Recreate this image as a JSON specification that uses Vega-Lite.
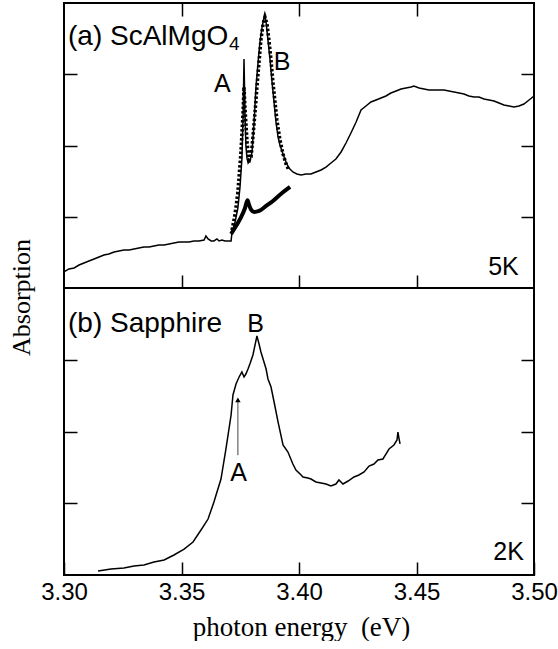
{
  "$schema": "https://vega.github.io/schema/vega-lite/v6.json",
  "autosize": {"type": "pad"},
  "padding": {"left": 7, "top": 1, "right": 0, "bottom": 0},
  "spacing": 0,
  "bounds": "flush",
  "background": "white",
  "config": {
    "view": {"stroke": "black", "strokeWidth": 2},
    "axis": {
      "domain": false, "grid": false, "ticks": true,
      "tickColor": "black", "tickWidth": 1.5, "tickSize": -13,
      "labelFont": "Liberation Sans", "labelFontSize": 24, "labelColor": "black",
      "titleFont": "Liberation Serif", "titleFontSize": 26, "titleColor": "black", "titleFontWeight": "normal"
    },
    "text": {"font": "Liberation Sans", "color": "black"}
  },
  "datasets": {
    "scalmgo4": [
      {"E":3.3000,"A":0.225},{"E":3.3021,"A":0.267},{"E":3.3043,"A":0.281},{"E":3.3064,"A":0.323},{"E":3.3085,"A":0.351},{"E":3.3106,"A":0.379},{"E":3.3128,"A":0.407},{"E":3.3149,"A":0.435},{"E":3.3170,"A":0.463},{"E":3.3191,"A":0.477},{"E":3.3213,"A":0.505},{"E":3.3234,"A":0.519},{"E":3.3255,"A":0.533},{"E":3.3277,"A":0.533},{"E":3.3298,"A":0.547},{"E":3.3319,"A":0.561},{"E":3.3340,"A":0.575},{"E":3.3362,"A":0.575},{"E":3.3383,"A":0.589},{"E":3.3404,"A":0.604},{"E":3.3426,"A":0.604},{"E":3.3447,"A":0.618},{"E":3.3468,"A":0.632},{"E":3.3489,"A":0.646},{"E":3.3511,"A":0.646},{"E":3.3532,"A":0.646},{"E":3.3553,"A":0.660},{"E":3.3574,"A":0.660},{"E":3.3596,"A":0.674},{"E":3.3604,"A":0.730},{"E":3.3613,"A":0.688},{"E":3.3626,"A":0.660},{"E":3.3638,"A":0.660},{"E":3.3651,"A":0.688},{"E":3.3660,"A":0.660},{"E":3.3672,"A":0.674},{"E":3.3685,"A":0.660},{"E":3.3702,"A":0.660},{"E":3.3711,"A":0.660},
      {"E":3.3715,"A":0.786},{"E":3.3728,"A":0.926},{"E":3.3740,"A":1.123},{"E":3.3749,"A":1.418},{"E":3.3757,"A":1.811},{"E":3.3762,"A":2.400},{"E":3.3766,"A":3.214},{"E":3.3770,"A":2.470},{"E":3.3774,"A":2.000},{"E":3.3779,"A":1.811},{"E":3.3783,"A":1.768},{"E":3.3791,"A":1.768},{"E":3.3800,"A":1.909},{"E":3.3809,"A":2.330},{"E":3.3817,"A":2.821},{"E":3.3826,"A":3.172},{"E":3.3834,"A":3.453},{"E":3.3843,"A":3.663},{"E":3.3851,"A":3.790},{"E":3.3855,"A":3.804},{"E":3.3860,"A":3.733},{"E":3.3868,"A":3.481},{"E":3.3877,"A":3.200},{"E":3.3885,"A":2.900},{"E":3.3894,"A":2.600},{"E":3.3902,"A":2.330},{"E":3.3911,"A":2.119},{"E":3.3919,"A":2.007},{"E":3.3932,"A":1.881},{"E":3.3945,"A":1.768},{"E":3.3957,"A":1.684},{"E":3.3974,"A":1.628},{"E":3.3991,"A":1.600},{"E":3.4009,"A":1.586},{"E":3.4030,"A":1.600},{"E":3.4051,"A":1.600},{"E":3.4072,"A":1.628},{"E":3.4094,"A":1.656},{"E":3.4115,"A":1.698},{"E":3.4136,"A":1.754},{"E":3.4157,"A":1.811},{"E":3.4179,"A":1.909},{"E":3.4200,"A":2.035},{"E":3.4221,"A":2.175},{"E":3.4243,"A":2.330},{"E":3.4264,"A":2.498},{"E":3.4285,"A":2.554},{"E":3.4306,"A":2.611},{"E":3.4328,"A":2.639},{"E":3.4349,"A":2.667},{"E":3.4370,"A":2.695},{"E":3.4391,"A":2.737},{"E":3.4413,"A":2.765},{"E":3.4434,"A":2.793},{"E":3.4455,"A":2.807},{"E":3.4477,"A":2.821},{"E":3.4489,"A":2.835},{"E":3.4511,"A":2.807},{"E":3.4532,"A":2.793},{"E":3.4553,"A":2.779},{"E":3.4574,"A":2.779},{"E":3.4596,"A":2.779},{"E":3.4617,"A":2.779},{"E":3.4638,"A":2.765},{"E":3.4660,"A":2.751},{"E":3.4681,"A":2.737},{"E":3.4702,"A":2.723},{"E":3.4723,"A":2.695},{"E":3.4745,"A":2.681},{"E":3.4766,"A":2.681},{"E":3.4787,"A":2.653},{"E":3.4809,"A":2.639},{"E":3.4830,"A":2.625},{"E":3.4851,"A":2.596},{"E":3.4872,"A":2.568},{"E":3.4894,"A":2.554},{"E":3.4915,"A":2.540},{"E":3.4936,"A":2.554},{"E":3.4957,"A":2.582},{"E":3.4979,"A":2.639},{"E":3.5000,"A":2.695}
    ],
    "fit": [
      {"E":3.3715,"A":0.814},{"E":3.3728,"A":1.039},{"E":3.3740,"A":1.347},{"E":3.3753,"A":1.909},{"E":3.3762,"A":2.470},{"E":3.3766,"A":2.821},{"E":3.3770,"A":2.540},{"E":3.3779,"A":2.049},{"E":3.3787,"A":1.796},{"E":3.3796,"A":1.839},{"E":3.3804,"A":2.119},{"E":3.3813,"A":2.470},{"E":3.3821,"A":2.821},{"E":3.3830,"A":3.172},{"E":3.3838,"A":3.481},{"E":3.3847,"A":3.705},{"E":3.3855,"A":3.804},{"E":3.3864,"A":3.705},{"E":3.3872,"A":3.481},{"E":3.3881,"A":3.200},{"E":3.3889,"A":2.891},{"E":3.3898,"A":2.611},{"E":3.3906,"A":2.358},{"E":3.3919,"A":2.077},{"E":3.3932,"A":1.881},{"E":3.3945,"A":1.740},{"E":3.3957,"A":1.656}
    ],
    "component": [
      {"E":3.3711,"A":0.758},{"E":3.3732,"A":0.870},{"E":3.3753,"A":0.990},{"E":3.3770,"A":1.120},{"E":3.3781,"A":1.230},{"E":3.3787,"A":1.170},{"E":3.3796,"A":1.100},{"E":3.3809,"A":1.067},{"E":3.3830,"A":1.081},{"E":3.3860,"A":1.151},{"E":3.3889,"A":1.221},{"E":3.3923,"A":1.319},{"E":3.3962,"A":1.418}
    ],
    "sapphire": [
      {"E":3.3145,"A":0.056},{"E":3.3200,"A":0.084},{"E":3.3255,"A":0.098},{"E":3.3298,"A":0.125},{"E":3.3340,"A":0.139},{"E":3.3383,"A":0.181},{"E":3.3426,"A":0.209},{"E":3.3468,"A":0.279},{"E":3.3511,"A":0.362},{"E":3.3549,"A":0.460},{"E":3.3583,"A":0.627},{"E":3.3613,"A":0.780},{"E":3.3638,"A":1.017},{"E":3.3668,"A":1.338},{"E":3.3689,"A":1.756},{"E":3.3711,"A":2.230},{"E":3.3719,"A":2.509},{"E":3.3732,"A":2.662},{"E":3.3745,"A":2.760},{"E":3.3757,"A":2.829},{"E":3.3766,"A":2.760},{"E":3.3774,"A":2.801},{"E":3.3783,"A":2.871},{"E":3.3791,"A":2.941},{"E":3.3804,"A":3.066},{"E":3.3821,"A":3.331},{"E":3.3830,"A":3.220},{"E":3.3838,"A":3.108},{"E":3.3851,"A":2.969},{"E":3.3860,"A":2.871},{"E":3.3868,"A":2.732},{"E":3.3881,"A":2.620},{"E":3.3894,"A":2.411},{"E":3.3911,"A":2.132},{"E":3.3932,"A":1.812},{"E":3.3953,"A":1.714},{"E":3.3974,"A":1.547},{"E":3.3987,"A":1.463},{"E":3.4009,"A":1.394},{"E":3.4017,"A":1.366},{"E":3.4038,"A":1.352},{"E":3.4051,"A":1.338},{"E":3.4072,"A":1.296},{"E":3.4094,"A":1.282},{"E":3.4115,"A":1.268},{"E":3.4136,"A":1.240},{"E":3.4157,"A":1.268},{"E":3.4170,"A":1.324},{"E":3.4187,"A":1.268},{"E":3.4209,"A":1.310},{"E":3.4234,"A":1.366},{"E":3.4255,"A":1.394},{"E":3.4277,"A":1.436},{"E":3.4298,"A":1.519},{"E":3.4319,"A":1.547},{"E":3.4336,"A":1.603},{"E":3.4357,"A":1.617},{"E":3.4370,"A":1.686},{"E":3.4383,"A":1.756},{"E":3.4404,"A":1.812},{"E":3.4417,"A":1.882},{"E":3.4421,"A":1.993},{"E":3.4426,"A":1.895},{"E":3.4430,"A":1.826}
    ],
    "labels_a": [
      {"E":3.3674,"A":2.75,"text":"A"},{"E":3.3928,"A":3.06,"text":"B"},{"E":3.4870,"A":0.18,"text":"5K"}
    ],
    "labels_b": [
      {"E":3.3815,"A":3.39,"text":"B"},{"E":3.3743,"A":1.31,"text":"A"},{"E":3.4892,"A":0.21,"text":"2K"}
    ],
    "arrow": [
      {"E":3.3740,"A0":1.67,"A1":2.44}
    ]
  },
  "vconcat": [
    {
      "width": 470,
      "height": 285,
      "layer": [
        {
          "data": {"name": "scalmgo4"},
          "mark": {"type": "line", "color": "black", "strokeWidth": 1.5},
          "encoding": {
            "x": {"field": "E", "type": "quantitative", "scale": {"domain": [3.3, 3.5]},
                  "axis": {"orient": "bottom", "values": [3.35, 3.4, 3.45], "labels": false, "title": null}},
            "y": {"field": "A", "type": "quantitative", "scale": {"domain": [0, 4]},
                  "axis": {"orient": "left", "values": [1, 2, 3], "labels": false, "title": "Absorption",
                           "titleX": -35, "titleY": 294, "titleBaseline": "alphabetic", "titleAlign": "center", "titleAngle": -90}}
          }
        },
        {
          "data": {"name": "fit"},
          "mark": {"type": "line", "color": "black", "strokeWidth": 3.5, "strokeDash": [2.5, 2]},
          "encoding": {
            "x": {"field": "E", "type": "quantitative",
                  "axis": {"orient": "top", "values": [3.35, 3.4, 3.45], "labels": false, "title": null}},
            "y": {"field": "A", "type": "quantitative",
                  "axis": {"orient": "right", "values": [1, 2, 3], "labels": false, "title": null}}
          }
        },
        {
          "data": {"name": "component"},
          "mark": {"type": "line", "color": "black", "strokeWidth": 4, "interpolate": "monotone"},
          "encoding": {
            "x": {"field": "E", "type": "quantitative", "axis": null},
            "y": {"field": "A", "type": "quantitative", "axis": null}
          }
        },
        {
          "data": {"name": "labels_a"},
          "mark": {"type": "text", "fontSize": 25, "align": "center", "baseline": "alphabetic"},
          "encoding": {
            "x": {"field": "E", "type": "quantitative", "axis": null},
            "y": {"field": "A", "type": "quantitative", "axis": null},
            "text": {"field": "text"}
          }
        },
        {
          "data": {"values": [{"E": 3.3017, "A": 3.41, "text": "(a) ScAlMgO"}]},
          "mark": {"type": "text", "fontSize": 28, "align": "left", "baseline": "alphabetic"},
          "encoding": {
            "x": {"field": "E", "type": "quantitative", "axis": null},
            "y": {"field": "A", "type": "quantitative", "axis": null},
            "text": {"field": "text"}
          }
        },
        {
          "data": {"values": [{"E": 3.3702, "A": 3.34, "text": "4"}]},
          "mark": {"type": "text", "fontSize": 19, "align": "left", "baseline": "alphabetic"},
          "encoding": {
            "x": {"field": "E", "type": "quantitative", "axis": null},
            "y": {"field": "A", "type": "quantitative", "axis": null},
            "text": {"field": "text"}
          }
        }
      ],
      "resolve": {"axis": {"x": "independent", "y": "independent"}}
    },
    {
      "width": 470,
      "height": 287,
      "layer": [
        {
          "data": {"name": "sapphire"},
          "mark": {"type": "line", "color": "black", "strokeWidth": 1.5},
          "encoding": {
            "x": {"field": "E", "type": "quantitative", "scale": {"domain": [3.3, 3.5]},
                  "axis": {"orient": "bottom", "values": [3.3, 3.35, 3.4, 3.45, 3.5], "format": ".2f",
                           "labelPadding": 37, "labelBaseline": "alphabetic", "labelFlush": false,
                           "title": "photon energy\u00a0 (eV)", "titleFontSize": 27, "titleX": 237, "titleY": 60, "titleBaseline": "alphabetic", "titleAnchor": null}},
            "y": {"field": "A", "type": "quantitative", "scale": {"domain": [0, 4]},
                  "axis": {"orient": "left", "values": [1, 2, 3], "labels": false, "title": null}}
          }
        },
        {
          "data": {"name": "arrow"},
          "mark": {"type": "rule", "color": "#444444", "strokeWidth": 1},
          "encoding": {
            "x": {"field": "E", "type": "quantitative", "axis": null},
            "y": {"field": "A0", "type": "quantitative",
                  "axis": {"orient": "right", "values": [1, 2, 3], "labels": false, "title": null}},
            "y2": {"field": "A1"}
          }
        },
        {
          "data": {"name": "arrow"},
          "mark": {"type": "point", "shape": "triangle-up", "filled": true, "color": "black", "size": 30, "opacity": 1},
          "encoding": {
            "x": {"field": "E", "type": "quantitative", "axis": null},
            "y": {"field": "A1", "type": "quantitative", "axis": null}
          }
        },
        {
          "data": {"name": "labels_b"},
          "mark": {"type": "text", "fontSize": 25, "align": "center", "baseline": "alphabetic"},
          "encoding": {
            "x": {"field": "E", "type": "quantitative", "axis": null},
            "y": {"field": "A", "type": "quantitative", "axis": null},
            "text": {"field": "text"}
          }
        },
        {
          "data": {"values": [{"E": 3.3017, "A": 3.39, "text": "(b) Sapphire"}]},
          "mark": {"type": "text", "fontSize": 28, "align": "left", "baseline": "alphabetic"},
          "encoding": {
            "x": {"field": "E", "type": "quantitative", "axis": null},
            "y": {"field": "A", "type": "quantitative", "axis": null},
            "text": {"field": "text"}
          }
        }
      ],
      "resolve": {"axis": {"x": "independent", "y": "independent"}}
    }
  ]
}
